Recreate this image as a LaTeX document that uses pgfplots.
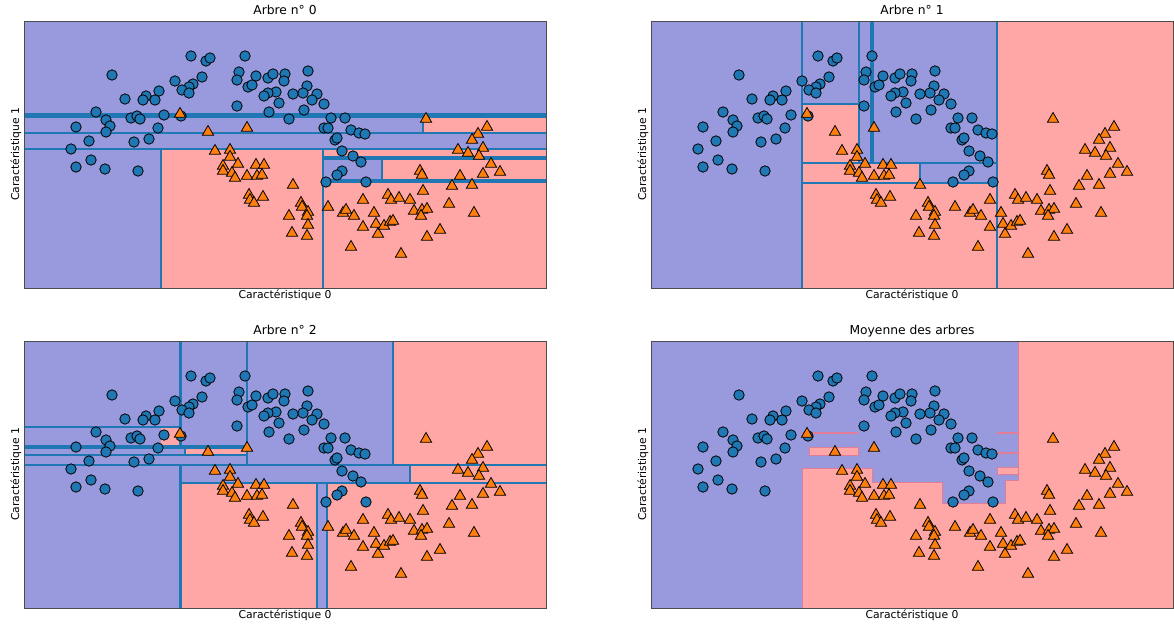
\documentclass[border=0pt]{standalone}
\usepackage{fontspec}
\setmainfont{DejaVu Sans}
\usepackage{pgfplots}
\usepackage{pgfplotstable}
\pgfplotsset{compat=1.18}

\definecolor{regblue}{RGB}{153,153,221}
\definecolor{regred}{RGB}{255,166,166}
\definecolor{splitc}{RGB}{31,119,180}
\definecolor{ptblue}{RGB}{31,119,180}
\definecolor{ptorange}{RGB}{255,127,14}
\definecolor{edgered}{RGB}{225,125,150}

% points, in pixel coordinates of the first panel
\pgfplotstableread{
x y
112 75
191 56
206 61
210 58
202 77
175 81
193 84
189 87
182 90
189 93
159 91
146 96
143 100
155 100
125 99
96 112
106 120
110 126
106 132
76 127
89 141
71 149
131 118
137 116
140 119
164 115
181 116
158 128
149 139
134 142
76 167
91 160
105 169
138 171
245 56
239 72
237 80
248 87
252 85
256 76
268 78
273 74
285 74
284 81
308 71
307 86
303 93
317 94
312 100
324 104
293 94
279 103
276 92
268 93
264 96
237 106
269 112
304 110
289 119
331 118
345 118
324 128
328 128
351 130
359 133
365 134
335 140
337 138
342 151
353 156
361 162
342 171
337 175
326 182
366 182
}\circles

\pgfplotstableread{
x y
180 114
208 132
247 128
426 119
487 127
478 134
472 140
483 148
458 150
468 153
479 156
215 151
230 150
230 157
223 166
223 171
238 164
232 173
235 178
247 176
256 165
264 165
257 176
262 175
249 195
250 200
254 203
263 197
293 185
301 203
302 207
308 212
307 216
289 216
308 225
292 233
307 236
328 207
343 213
346 210
354 216
363 200
374 213
363 227
376 224
378 234
351 247
420 171
422 175
460 176
483 174
491 164
500 172
452 186
472 185
423 191
388 195
391 200
399 198
410 200
449 204
474 213
414 211
422 210
427 209
421 216
384 226
390 222
393 221
440 230
427 237
401 254
}\triangles

\pgfplotsset{
  panel/.style={
    scale only axis, width=522pt, height=267pt,
    y dir=reverse, xtick=\empty, ytick=\empty,
    axis on top, anchor=south west,
    axis line style={black!70, line width=0.8pt},
    title style={at={(axis description cs:0.5,1)}, anchor=base,
      inner sep=0pt, font=\fontsize{12.3pt}{14pt}\selectfont},
    xlabel={Caractéristique 0}, ylabel={Caractéristique 1},
    xlabel style={at={(axis description cs:0.5,0)}, anchor=north, yshift=-2pt,
      inner sep=0pt, font=\fontsize{10.8pt}{13pt}\selectfont},
    ylabel style={at={(axis description cs:0,0.5)}, anchor=base, yshift=5pt,
      inner sep=0pt, font=\fontsize{10.8pt}{13pt}\selectfont},
  },
  bg/.style={fill=regblue, draw=none},
  rr/.style={fill=regred, draw=none},
  sp/.style={splitc, line width=2.6pt},
  circ/.style={only marks, mark=*, mark size=5.2pt,
    mark options={fill=ptblue, draw=black, line width=0.8pt}},
  tri/.style={only marks, mark=triangle*, mark size=6.5pt,
    mark options={fill=ptorange, draw=black, line width=0.8pt}},
}

\newcommand{\rect}[5][rr]{\addplot[#1] coordinates {(#2,#3) (#4,#3) (#4,#5) (#2,#5)} -- cycle;}
\newcommand{\seg}[5][]{\addplot[sp,#1] coordinates {(#2,#3) (#4,#5)};}

\begin{document}
\begin{tikzpicture}
\useasboundingbox (0,0) rectangle (1174pt,626pt);

% Arbre 0
\begin{axis}[panel, at={(24pt,338pt)}, xmin=24, xmax=546, ymin=21, ymax=288,
  title={Arbre n° 0}]
\rect[bg]{24}{21}{546}{288}
\rect{161}{149}{323}{288}
\rect{323}{181}{546}{288}
\rect{323}{149}{546}{158}
\rect{382}{158}{546}{181}
\rect{423}{118}{546}{133}
\seg[line width=5pt]{24}{115.5}{546}{115.5}
\seg{24}{133}{546}{133}
\seg{24}{149}{546}{149}
\seg{161}{149}{161}{288}
\seg{323}{149}{323}{288}
\seg{423}{118}{423}{133}
\seg[line width=3.5pt]{323}{158}{546}{158}
\seg[line width=4.5pt]{323}{181}{546}{181}
\seg{382}{158}{382}{181}
\addplot[circ] table {\circles};
\addplot[tri] table {\triangles};
\end{axis}

% Arbre 1
\begin{axis}[panel, at={(651pt,338pt)}, xmin=651, xmax=1173, ymin=21, ymax=288,
  title={Arbre n° 1}]
\rect[bg]{651}{21}{1173}{288}
\rect{997}{21}{1173}{288}
\rect{802}{104}{859}{163}
\rect{802}{163}{920}{183}
\rect{802}{183}{997}{288}
\seg{802}{21}{802}{288}
\seg{997}{21}{997}{288}
\seg{859}{21}{859}{163}
\seg[line width=4.5pt]{872}{21}{872}{163}
\seg{802}{104}{859}{104}
\seg{802}{163}{997}{163}
\seg{920}{163}{920}{183}
\seg{802}{183}{997}{183}
\addplot[circ] table[x expr=\thisrow{x}+627] {\circles};
\addplot[tri] table[x expr=\thisrow{x}+627] {\triangles};
\end{axis}

% Arbre 2
\begin{axis}[panel, at={(24pt,18pt)}, xmin=24, xmax=546, ymin=341, ymax=608,
  title={Arbre n° 2}]
\rect[bg]{24}{341}{546}{608}
\rect{393}{341}{546}{465}
\rect{161}{427}{180}{447}
\rect{185}{447}{247}{455}
\rect{410}{465}{546}{483}
\rect{180}{483}{317}{608}
\rect{327}{483}{546}{608}
\seg{180.5}{341}{180.5}{447}
\seg{180.5}{465}{180.5}{608}
\seg{185}{447}{185}{455}
\seg{247}{341}{247}{465}
\seg{393}{341}{393}{465}
\seg{24}{427}{180}{427}
\seg[line width=4pt]{24}{446.5}{247}{446.5}
\seg{24}{455}{247}{455}
\seg{24}{465}{546}{465}
\seg{180}{483}{546}{483}
\seg{410}{465}{410}{483}
\seg{317}{483}{317}{608}
\seg{327}{483}{327}{608}
\addplot[circ] table[y expr=\thisrow{y}+320] {\circles};
\addplot[tri] table[y expr=\thisrow{y}+320] {\triangles};
\end{axis}

% Moyenne
\begin{axis}[panel, at={(651pt,18pt)}, xmin=651, xmax=1173, ymin=341, ymax=608,
  title={Moyenne des arbres}]
\rect[bg]{651}{341}{1173}{608}
\addplot[fill=regred, draw=edgered, line width=0.8pt] coordinates {
  (802,610) (802,468) (872,468) (872,482) (942,482) (942,503) (1005,503)
  (1005,480) (1018,480) (1018,341) (1175,341) (1175,610)} -- cycle;
\addplot[fill=regred, draw=edgered, line width=0.8pt] coordinates {
  (809,447) (858,447) (858,455) (809,455)} -- cycle;
\addplot[fill=regred, draw=edgered, line width=0.8pt] coordinates {
  (997,467) (1018,467) (1018,474) (997,474)} -- cycle;
\addplot[edgered, line width=1.2pt] coordinates {(802,433) (858,433)};
\addplot[edgered, line width=1.2pt] coordinates {(997,433) (1018,433)};
\addplot[edgered, line width=1.2pt] coordinates {(997,453) (1018,453)};
\addplot[circ] table[x expr=\thisrow{x}+627, y expr=\thisrow{y}+320] {\circles};
\addplot[tri] table[x expr=\thisrow{x}+627, y expr=\thisrow{y}+320] {\triangles};
\end{axis}
\end{tikzpicture}
\end{document}
